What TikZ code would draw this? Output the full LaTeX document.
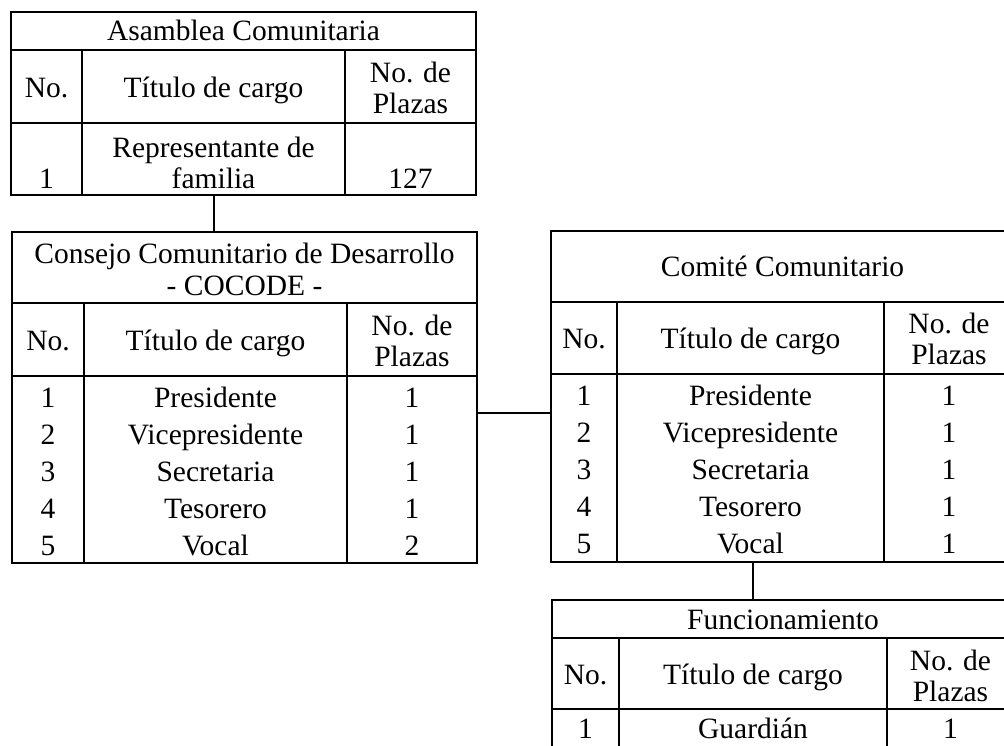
\documentclass[tikz,border=0pt]{standalone}
\usepackage{fontspec}
\setmainfont{Liberation Serif}
\tikzset{
  table frame/.style={draw,line width=1.5pt,inner sep=0pt,outer sep=0pt,anchor=north west},
  table rule/.style={line width=1.5pt},
  link line/.style={line width=1.5pt},
  cell/.style={inner sep=0pt,text height=19.5pt,text depth=0pt,font=\fontsize{29.5}{31}\selectfont}
}
\begin{document}
\begin{tikzpicture}[x=1pt,y=-1pt]
  \useasboundingbox (0,0) rectangle (1004,745);
  \clip (0,0) rectangle (1004,745);
  % Asamblea Comunitaria
  \node[table frame,minimum width=465,minimum height=183] (asamblea) at (11,12) {};
  \draw[table rule] (11,50) -- (476,50) (11,123) -- (476,123) (82,50) -- (82,195) (345,50) -- (345,195);
  \node[cell] (asamblea-title) at (243.5,31) {Asamblea Comunitaria};
  \node[cell] (asamblea-no) at (46.5,88) {No.};
  \node[cell] (asamblea-cargo) at (213.5,88) {Título de cargo};
  \node[cell] (asamblea-plazas-a) at (410.5,73) {No. de};
  \node[cell] (asamblea-plazas-b) at (410.5,104) {Plazas};
  \node[cell] (asamblea-rep-a) at (213.5,148) {Representante de};
  \node[cell] (asamblea-rep-b) at (213.5,179) {familia};
  \node[cell] (asamblea-n1) at (46.5,179) {1};
  \node[cell] (asamblea-p1) at (410.5,179) {127};
  % Consejo Comunitario de Desarrollo
  \node[table frame,minimum width=465,minimum height=331] (consejo) at (12,232) {};
  \draw[table rule] (12,303) -- (477,303) (12,376) -- (477,376) (84,303) -- (84,563) (347,303) -- (347,563);
  \node[cell] (consejo-title-a) at (244.5,254) {Consejo Comunitario de Desarrollo};
  \node[cell] (consejo-title-b) at (244.5,286) {- COCODE -};
  \node[cell] (consejo-no) at (48,341) {No.};
  \node[cell] (consejo-cargo) at (215.5,341) {Título de cargo};
  \node[cell] (consejo-plazas-a) at (412,326) {No. de};
  \node[cell] (consejo-plazas-b) at (412,357) {Plazas};
  \foreach \n/\cargo/\plazas/\y in {1/Presidente/1/398,2/Vicepresidente/1/435,3/Secretaria/1/472,4/Tesorero/1/509,5/Vocal/2/546}{
    \node[cell] (consejo-n\n) at (48,\y) {\n};
    \node[cell] (consejo-c\n) at (215.5,\y) {\cargo};
    \node[cell] (consejo-p\n) at (412,\y) {\plazas};
  }
  % Comite Comunitario
  \node[table frame,minimum width=463,minimum height=331] (comite) at (551,231) {};
  \draw[table rule] (551,302) -- (1014,302) (551,374) -- (1014,374) (617,302) -- (617,562) (884,302) -- (884,562);
  \node[cell] (comite-title) at (782.5,267) {Comité Comunitario};
  \node[cell] (comite-no) at (584,339) {No.};
  \node[cell] (comite-cargo) at (750.5,339) {Título de cargo};
  \node[cell] (comite-plazas-a) at (949,324) {No. de};
  \node[cell] (comite-plazas-b) at (949,355) {Plazas};
  \foreach \n/\cargo/\y in {1/Presidente/396,2/Vicepresidente/433,3/Secretaria/470,4/Tesorero/507,5/Vocal/544}{
    \node[cell] (comite-n\n) at (584,\y) {\n};
    \node[cell] (comite-c\n) at (750.5,\y) {\cargo};
    \node[cell] (comite-p\n) at (949,\y) {1};
  }
  % Funcionamiento
  \node[table frame,minimum width=462,minimum height=150] (funcion) at (552,600) {};
  \draw[table rule] (552,638) -- (1014,638) (552,709) -- (1014,709) (619,638) -- (619,750) (887,638) -- (887,750);
  \node[cell] (funcion-title) at (783,620) {Funcionamiento};
  \node[cell] (funcion-no) at (585.5,675) {No.};
  \node[cell] (funcion-cargo) at (753,675) {Título de cargo};
  \node[cell] (funcion-plazas-a) at (950.5,661) {No. de};
  \node[cell] (funcion-plazas-b) at (950.5,692) {Plazas};
  \node[cell] (funcion-n1) at (585.5,729) {1};
  \node[cell] (funcion-c1) at (753,729) {Guardián};
  \node[cell] (funcion-p1) at (950.5,729) {1};
  % links
  \draw[link line] ([xshift=203pt]asamblea.south west) -- ([xshift=203pt]asamblea.south west |- consejo.north);
  \draw[link line] ([yshift=-15.5pt]consejo.east) -- ([yshift=-15.5pt]consejo.east -| comite.west);
  \draw[link line] ([xshift=202pt]comite.south west) -- ([xshift=202pt]comite.south west |- funcion.north);
\end{tikzpicture}
\end{document}
